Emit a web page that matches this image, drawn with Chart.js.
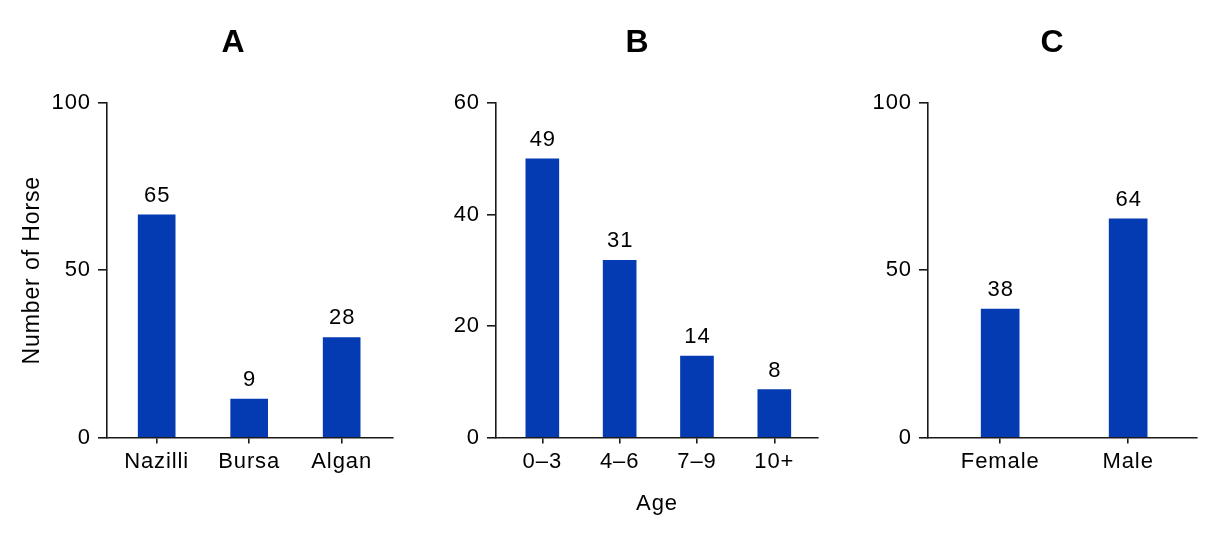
<!DOCTYPE html>
<html>
<head>
<meta charset="utf-8">
<script src="https://cdn.jsdelivr.net/npm/chart.js@4.4.1/dist/chart.umd.min.js"></script>
<style>
  html, body { margin: 0; padding: 0; background: #fff; overflow: hidden; }
  body { width: 1219px; height: 546px; position: relative; }
  canvas { position: absolute; top: 0; }
</style>
</head>
<body>
<canvas id="chartA" width="410" height="546" style="left:0px"></canvas>
<canvas id="chartB" width="420" height="546" style="left:420px"></canvas>
<canvas id="chartC" width="359" height="546" style="left:860px"></canvas>
<script>
// panel A - location
var locations = ['Nazilli', 'Bursa', 'Algan'];
var locationBars = [66.6, 11.5, 29.9];
var locationLabels = ['65', '9', '28'];
var locationTicks = [0, 50, 100];

// panel B - age
var ages = ['0\u20133', '4\u20136', '7\u20139', '10+'];
var ageBars = [50, 31.8, 14.6, 8.6];
var ageLabels = ['49', '31', '14', '8'];
var ageTicks = [0, 20, 40, 60];

// panel C - sex
var sexes = ['Female', 'Male'];
var sexBars = [38.4, 65.4];
var sexLabels = ['38', '64'];
var sexTicks = [0, 50, 100];

var barColor = '#043bb2';
var axisColor = '#1a1a1a';
var textColor = '#000';
var fontFamily = "'Liberation Sans', Arial, Helvetica, sans-serif";

Chart.defaults.font.family = fontFamily;
Chart.defaults.color = textColor;

// wider letters like the original figure
var spacingPlugin = {
  id: 'spacing',
  beforeUpdate: function(chart){ chart.ctx.letterSpacing = '0.9px'; },
  beforeDraw: function(chart){ chart.ctx.letterSpacing = '0.9px'; }
};

// panel letter + numbers above bars
var annotatePlugin = {
  id: 'annotate',
  afterDatasetsDraw: function(chart, args, opts){
    var ctx = chart.ctx;
    ctx.save();
    ctx.letterSpacing = '0.9px';
    ctx.fillStyle = textColor;
    ctx.textAlign = 'center';
    ctx.textBaseline = 'alphabetic';
    ctx.font = '22px ' + fontFamily;
    chart.getDatasetMeta(0).data.forEach(function(bar, i){
      ctx.fillText(opts.labels[i], bar.x + 0.5, bar.y - 13);
    });
    ctx.letterSpacing = '0px';
    ctx.font = 'bold 32px ' + fontFamily;
    ctx.fillText(opts.title, opts.titleX, 52);
    ctx.restore();
  }
};

function makePanel(id, cats, bars, labels, ticks, o){
  var tickFont = { size: 22 };
  return new Chart(document.getElementById(id), {
    type: 'bar',
    data: {
      datasets: [{
        data: bars.map(function(v, i){ return { x: i, y: v }; }),
        backgroundColor: barColor,
        borderWidth: 0,
        barThickness: o.barWidth
      }]
    },
    options: {
      responsive: false,
      maintainAspectRatio: false,
      animation: false,
      layout: { padding: { top: 103, right: o.padRight, bottom: 0, left: 0 } },
      plugins: {
        legend: { display: false },
        tooltip: { enabled: false },
        annotate: { labels: labels, title: o.title, titleX: o.titleX }
      },
      scales: {
        x: {
          type: 'linear',
          min: o.xMin,
          max: o.xMax,
          offset: false,
          afterBuildTicks: function(s){ s.ticks = cats.map(function(c, i){ return { value: i }; }); },
          afterFit: function(s){ s.height = 108.5; },
          ticks: {
            autoSkip: false,
            maxRotation: 0,
            padding: 5,
            font: tickFont,
            color: textColor,
            callback: function(v){ return cats[v]; }
          },
          grid: { offset: false, drawOnChartArea: false, tickLength: 6, color: axisColor, lineWidth: 1.6 },
          border: { color: axisColor, width: 1.6 },
          title: o.xTitle ? { display: true, text: o.xTitle, font: { size: 22 }, color: textColor, padding: { top: 0, bottom: 29 } } : { display: false }
        },
        y: {
          min: ticks[0],
          max: ticks[ticks.length - 1],
          afterBuildTicks: function(s){ s.ticks = ticks.map(function(t){ return { value: t }; }); },
          afterFit: function(s){ s.width = o.yWidth; },
          ticks: { padding: 7, font: tickFont, color: textColor },
          grid: { drawOnChartArea: false, tickLength: 9, color: axisColor, lineWidth: 1.6 },
          border: { color: axisColor, width: 1.6 },
          title: o.yTitle ? { display: true, text: o.yTitle, font: { size: 23 }, color: textColor, padding: { top: 19, bottom: 0 } } : { display: false }
        }
      }
    },
    plugins: [spacingPlugin, annotatePlugin]
  });
}

makePanel('chartA', locations, locationBars, locationLabels, locationTicks, {
  title: 'A', titleX: 233, yWidth: 107, padRight: 17, barWidth: 37,
  xMin: -0.537, xMax: 2.555, yTitle: 'Number of Horse'
});
makePanel('chartB', ages, ageBars, ageLabels, ageTicks, {
  title: 'B', titleX: 217, yWidth: 76, padRight: 22, barWidth: 33,
  xMin: -0.599, xMax: 3.565, xTitle: 'Age'
});
makePanel('chartC', sexes, sexBars, sexLabels, sexTicks, {
  title: 'C', titleX: 192, yWidth: 68, padRight: 22, barWidth: 38,
  xMin: -0.564, xMax: 1.538
});
</script>
</body>
</html>
